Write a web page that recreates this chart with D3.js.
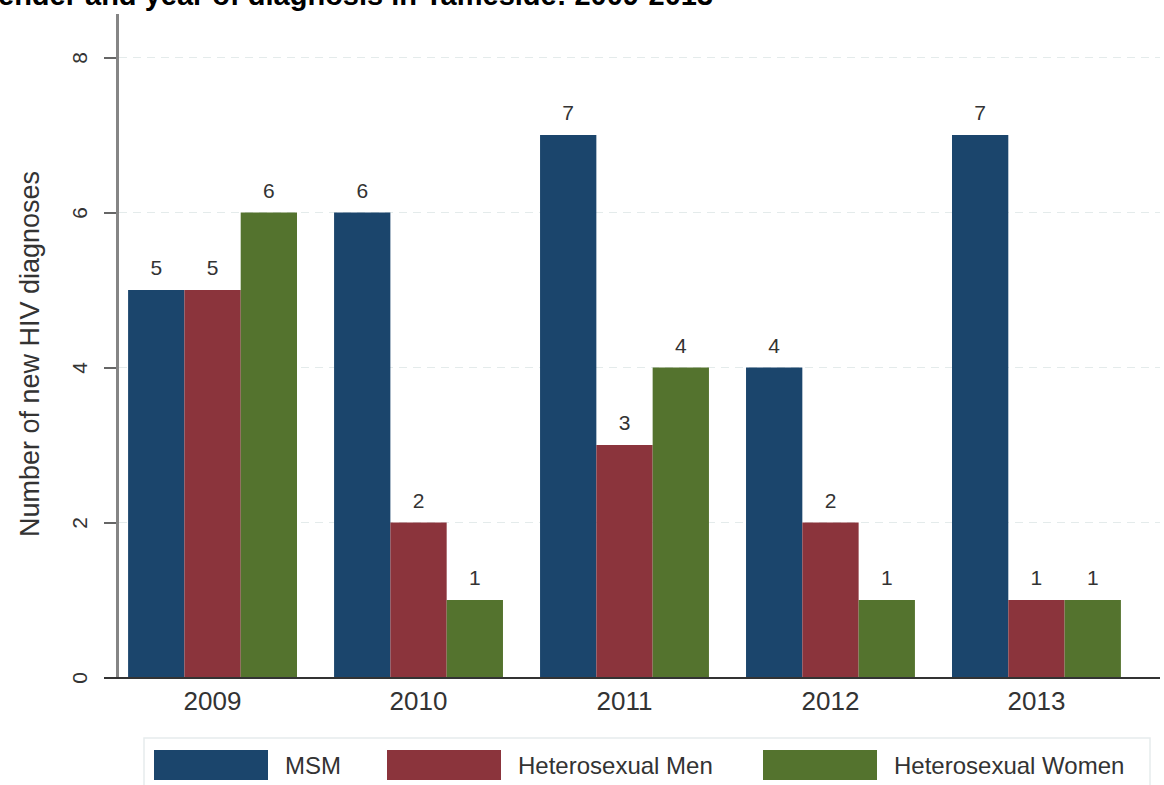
<!DOCTYPE html>
<html><head><meta charset="utf-8">
<script src="https://cdn.jsdelivr.net/npm/d3@7"></script>
<style>body{margin:0;background:#fff;} text{font-family:"Liberation Sans",Arial,sans-serif;}</style>
</head><body>
<svg id="chart" width="1164" height="785"></svg>
<script>
const years = ["2009","2010","2011","2012","2013"];
const seriesNames = ["MSM","Heterosexual Men","Heterosexual Women"];
const msm = [5,6,7,4,7];
const hetMen = [5,2,3,2,1];
const hetWomen = [6,1,4,1,1];
const yTicks = [0,2,4,6,8];
const colors = ["#1b456c","#8b343c","#54732e"];
const seriesValues = [msm, hetMen, hetWomen];

const svg = d3.select("#chart");
const x0 = d3.scaleBand().domain(years).range([118,1131]).paddingInner(0.18).paddingOuter(0.049);
const x1 = d3.scaleBand().domain(seriesNames).range([0, x0.bandwidth()]);
const y = d3.scaleLinear().domain([0,8]).range([677.5,57.5]);

// title (cut off at top)
svg.append("text").attr("x",-2).attr("y",5).attr("font-size",29).attr("font-weight","bold").attr("fill","#000")
  .text("ender and year of diagnosis in Tameside: 2009-2013");

// gridlines
svg.append("g").selectAll("line").data(yTicks.filter(d=>d>0)).join("line")
  .attr("x1",119).attr("x2",1160).attr("y1",d=>y(d)).attr("y2",d=>y(d))
  .attr("stroke","#e4ebeb").attr("stroke-width",1).attr("stroke-dasharray","8,6");

// bars
const data = [];
years.forEach((yr,i)=>seriesNames.forEach((s,j)=>data.push({yr,s,v:seriesValues[j][i],c:colors[j]})));
svg.append("g").selectAll("rect").data(data).join("rect")
  .attr("x",d=>x0(d.yr)+x1(d.s)).attr("width",x1.bandwidth())
  .attr("y",d=>y(d.v)).attr("height",d=>y(0)-y(d.v)).attr("fill",d=>d.c);
svg.append("g").selectAll("text").data(data).join("text")
  .attr("x",d=>x0(d.yr)+x1(d.s)+x1.bandwidth()/2).attr("y",d=>y(d.v)-15)
  .attr("text-anchor","middle").attr("font-size",21).attr("fill","#333").text(d=>d.v);

// y axis
const yAxis = svg.append("g").attr("transform","translate(118,0)")
  .call(d3.axisLeft(y).tickValues(yTicks).tickSize(14).tickPadding(24));
yAxis.select(".domain").remove();
yAxis.selectAll(".tick line").attr("stroke","#333").attr("stroke-width",1.5);
yAxis.selectAll(".tick text").attr("font-size",21).attr("fill","#333")
  .attr("x",-38).attr("y",0).attr("dy","0.35em").attr("text-anchor","middle")
  .attr("transform","rotate(-90,-38,0)");
svg.append("line").attr("x1",117.5).attr("x2",117.5).attr("y1",14).attr("y2",678).attr("stroke","#858585").attr("stroke-width",3);

// x axis
svg.append("line").attr("x1",104).attr("x2",1160).attr("y1",678).attr("y2",678).attr("stroke","#333").attr("stroke-width",2);
const xAxis = svg.append("g").attr("transform","translate(0,678)").call(d3.axisBottom(x0).tickSize(0).tickPadding(14));
xAxis.select(".domain").remove();
xAxis.selectAll(".tick text").attr("font-size",26).attr("fill","#333");

// y title
svg.append("text").attr("transform","translate(30,354) rotate(-90)").attr("dy","0.35em").attr("text-anchor","middle")
  .attr("font-size",27).attr("fill","#333").text("Number of new HIV diagnoses");

// legend
svg.append("rect").attr("x",144).attr("y",738).attr("width",1006).attr("height",60).attr("fill","#fff").attr("stroke","#e6eced").attr("stroke-width",1.5);
const legX = [154,387,763];
const lg = svg.append("g").selectAll("g").data(seriesNames).join("g").attr("transform",(d,i)=>`translate(${legX[i]},750)`);
lg.append("rect").attr("width",114).attr("height",30).attr("fill",(d,i)=>colors[i]);
lg.append("text").attr("x",131).attr("y",16).attr("dy","0.35em").attr("font-size",24).attr("fill","#333").text(d=>d);
</script>
</body></html>
